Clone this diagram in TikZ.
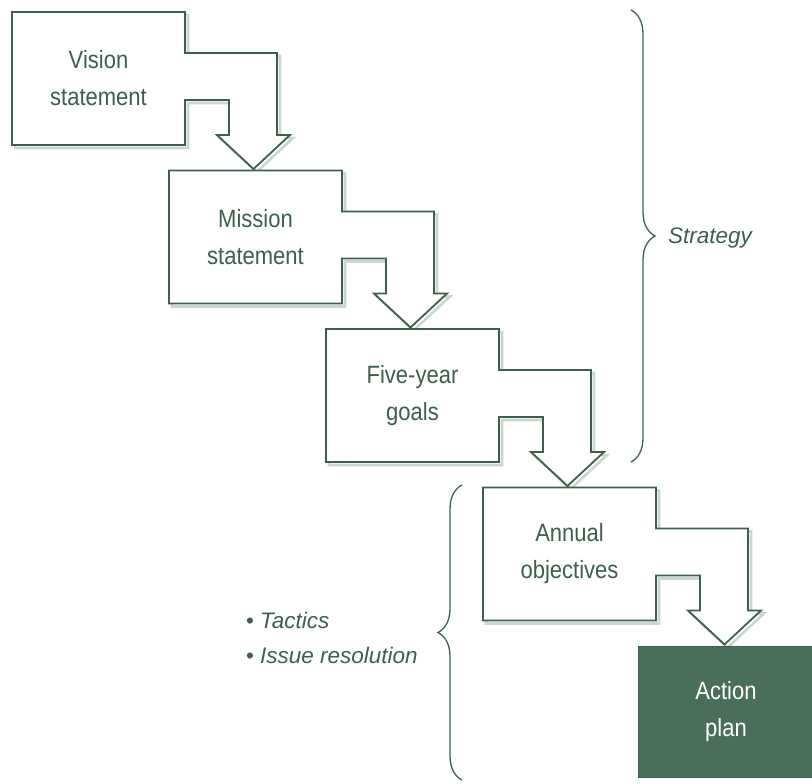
\documentclass[tikz,border=0pt]{standalone}
\usepackage{fontspec}
\usetikzlibrary{decorations.pathreplacing}
\newfontfamily\boxfont{Liberation Sans}[FakeStretch=0.88]
\newfontfamily\notefont{Liberation Sans}
\definecolor{ink}{HTML}{3D5F4C}
\definecolor{planfill}{HTML}{4A6E5A}
\definecolor{shade}{HTML}{C9D8CE}

% one stage: a box whose right side turns into a down arrow
% #1 name, #2 left, #3 top, #4 text
\newcommand\stagebox[4]{%
  \begin{scope}[shift={(#2,#3)}]
    \draw[shadowline,shift={(3,3)}] (0,0) -- (173,0) -- (173,41) -- (265,41) -- (265,123)
      -- (278,123) -- (241.5,157) -- (205,123) -- (217,123) -- (217,88) -- (173,88)
      -- (173,133) -- (0,133) -- cycle;
    \draw[outline] (0,0) -- (173,0) -- (173,41) -- (265,41) -- (265,123)
      -- (278,123) -- (241.5,157) -- (205,123) -- (217,123) -- (217,88) -- (173,88)
      -- (173,133) -- (0,133) -- cycle;
    \node[stagetext] (#1) at (86.5,66.5) {#4};
  \end{scope}}

\begin{document}
\begin{tikzpicture}[x=1pt,y=-1pt,
  outline/.style={draw=ink,line width=1.8pt,fill=white,line join=miter},
  shadowline/.style={draw=shade,line width=2.6pt},
  stagetext/.style={text=ink,font=\boxfont\fontsize{25}{37}\selectfont,align=center},
  planbox/.style={fill=planfill,draw=ink,line width=1pt,minimum width=175pt,minimum height=131pt,
    text=white,font=\boxfont\fontsize{25}{37}\selectfont,align=center,inner sep=0pt},
  bracestyle/.style={draw=ink,line width=1.3pt,decorate,decoration={brace,amplitude=24pt}},
  note/.style={text=ink,font=\notefont\itshape\fontsize{22.5}{26}\selectfont,anchor=west,inner sep=0pt}]
  \useasboundingbox (0,0) rectangle (812,784);

  \stagebox{vision}{12}{12}{Vision\\statement}
  \stagebox{mission}{169}{170.5}{Mission\\statement}
  \stagebox{goals}{326}{329}{Five-year\\goals}
  \stagebox{annual}{483}{487.5}{Annual\\objectives}

  % final stage
  \fill[shade] (641,650) rectangle (815,781);
  \node[planbox,anchor=north west] (plan) at (638,646) {Action\\plan};

  % braces and their labels
  \coordinate (stratTop) at (631,10);
  \coordinate (stratBot) at (631,462);
  \draw[bracestyle] (stratTop) -- (stratBot);
  \node[note] (strategy) at (668,238) {Strategy};

  \coordinate (tactTop) at (462,485);
  \coordinate (tactBot) at (462,780);
  \draw[bracestyle] (tactBot) -- (tactTop);
  \node[note] (tactics) at (246,620) {{\upshape\textbullet}\hspace{6pt}Tactics};
  \node[note] (issues) at (246,655) {{\upshape\textbullet}\hspace{6pt}Issue resolution};
\end{tikzpicture}
\end{document}
